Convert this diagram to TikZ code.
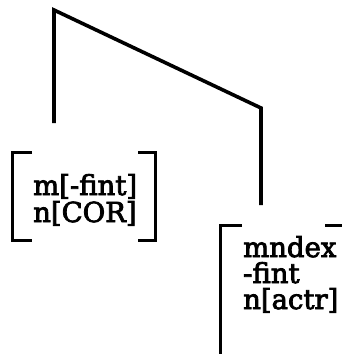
\documentclass[tikz,border=0pt]{standalone}
\usepackage{fontspec}
\setmainfont[FakeBold=3]{DejaVu Serif}
\begin{document}
\begin{tikzpicture}[x=1pt,y=-1pt,
  edge/.style={line width=3.6pt,line join=miter},
  brk/.style={line width=3pt},
  feat/.style={anchor=base west,inner sep=0pt,align=left,font=\fontsize{27.5}{27}\selectfont}]
\useasboundingbox (0,0) rectangle (342,354);
\coordinate (root) at (54,10);
\coordinate (lend) at (54,123);
\coordinate (rtop) at (261,108);
\coordinate (rend) at (261,205);
\draw[edge] (lend) -- (root) -- (rtop) -- (rend);
% left feature box
\node[feat] (l1) at (33,195) {m[-fint]};
\node[feat] (l2) at (33,222) {n[COR]};
\draw[brk] (32,152) -- (12,152) -- (12,240) -- (32,240);
\draw[brk] (138,152) -- (155,152) -- (155,240) -- (138,240);
% right feature box
\node[feat] (r1) at (243,257) {mndex};
\node[feat] (r2) at (243,283) {-fint};
\node[feat] (r3) at (243,309) {n[actr]};
\draw[brk] (242,225) -- (220,225) -- (220,354);
\draw[brk] (325,225) -- (342,225);
\end{tikzpicture}
\end{document}
